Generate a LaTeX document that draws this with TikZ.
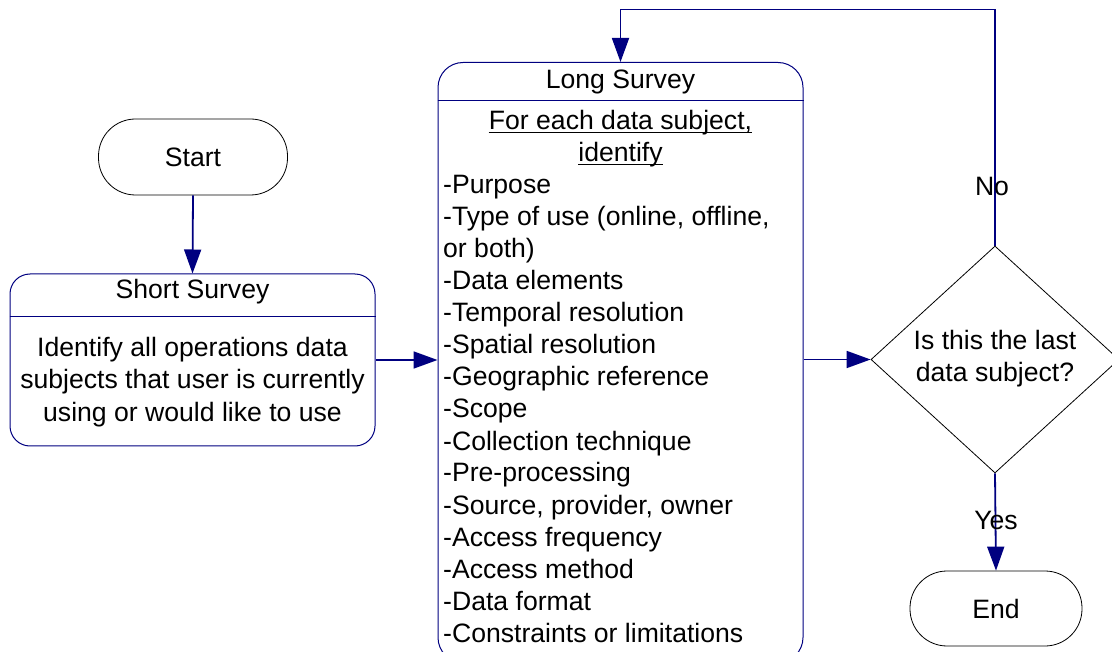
\documentclass[tikz,border=0pt]{standalone}
\usepackage{fontspec}
\setmainfont{Liberation Sans}
\usetikzlibrary{arrows.meta,shapes.geometric}
\definecolor{navy}{RGB}{0,0,128}
\begin{document}
\begin{tikzpicture}[x=1pt,y=-1pt,
  txt/.style={font=\fontsize{26.6}{32}\selectfont, inner sep=0pt, anchor=base},
  ltxt/.style={txt, anchor=base west},
  term/.style={draw=black, line width=0.8pt, fill=white, rounded corners=37pt, font=\fontsize{26.6}{32}\selectfont, inner sep=0pt},
  panel/.style={draw=navy, line width=1pt, fill=white, inner sep=0pt},
  conn/.style={draw=navy, line width=1.8pt, -{Triangle[length=24pt,width=17pt]}},
  divider/.style={draw=navy, line width=1pt},
  ulin/.style={draw=black, line width=1pt}
]
\useasboundingbox (0,0) rectangle (1112,652);

% Start
\node[term, minimum width=189pt, minimum height=76pt] (start) at (193,157) {Start};

% Short Survey
\node[panel, rounded corners=20pt, minimum width=365pt, minimum height=172pt] (ss) at (192.5,360) {};
\draw[divider] (ss.west |- 0,317) -- (ss.east |- 0,317);
\node[txt] (sstitle) at (192.5,299) {Short Survey};
\node[txt] (ssb1) at (192.5,357) {Identify all operations data};
\node[txt] (ssb2) at (192.5,389) {subjects that user is currently};
\node[txt] (ssb3) at (192.5,421) {using or would like to use};

% Long Survey
\node[panel, rounded corners=25pt, minimum width=365pt, minimum height=600pt, anchor=north] (ls) at (620.5,62) {};
\draw[divider] (ls.west |- 0,101) -- (ls.east |- 0,101);
\node[txt] (lstitle) at (620.5,89) {Long Survey};
\node[txt] (h1) at (620.5,130) {For each data subject,};
\node[txt] (h2) at (620.5,162) {identify};
\draw[ulin] ([yshift=-3pt]h1.base west) -- ([yshift=-3pt]h1.base east);
\draw[ulin] ([yshift=-3pt]h2.base west) -- ([yshift=-3pt]h2.base east);
\foreach \t [count=\k from 0] in {-Purpose,
  -Type of use (online{,} offline{,},
  or both),
  -Data elements,
  -Temporal resolution,
  -Spatial resolution,
  -Geographic reference,
  -Scope,
  -Collection technique,
  -Pre-processing,
  {-Source, provider, owner},
  -Access frequency,
  -Access method,
  -Data format,
  -Constraints or limitations}
  \node[ltxt] (item\k) at (443,194+32*\k) {\t};

% Decision
\node[draw=black, line width=0.8pt, fill=white, diamond, aspect=1.09, inner sep=0pt,
      minimum width=248pt, minimum height=227pt] (dia) at (995,359.5) {};
\node[txt] (dq1) at (995,350) {Is this the last};
\node[txt] (dq2) at (995,382) {data subject?};

% End
\node[term, minimum width=172pt, minimum height=75pt] (end) at (996,608.5) {End};

% Connectors
\draw[conn] (start.south) -- (ss.north);
\draw[conn] (ss.east) -- (ls.west |- ss.east);
\draw[conn] (ls.east |- dia.west) -- (dia.west);
\draw[conn] (dia.north) -- ++(0,-236) -| (ls.north);
\draw[conn] (dia.south) -- (end.north);

% Labels
\node[txt] (nolbl) at (992,196) {No};
\node[txt] (yeslbl) at (996,529) {Yes};
\end{tikzpicture}
\end{document}
